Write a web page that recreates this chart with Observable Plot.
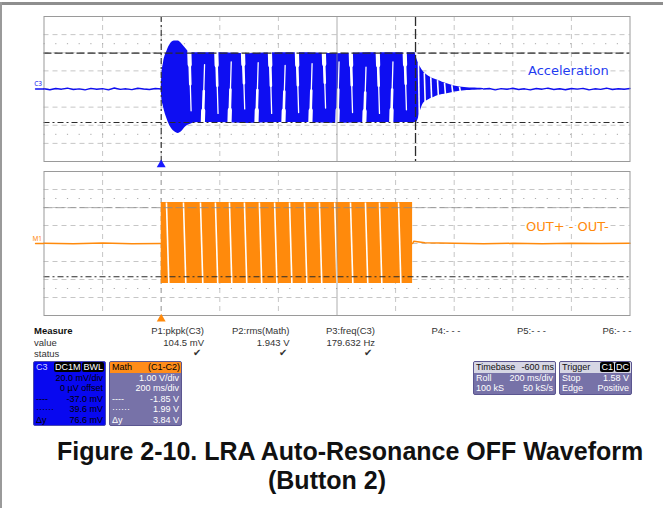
<!DOCTYPE html>
<html><head><meta charset="utf-8">
<script src="https://cdn.jsdelivr.net/npm/d3@7"></script>
<script src="https://cdn.jsdelivr.net/npm/@observablehq/plot@0.6"></script>
<style>
body{margin:0;background:#fff;}
#page{position:relative;width:663px;height:508px;overflow:hidden;background:#fff;font-family:"Liberation Sans",Arial,sans-serif;}
.box{position:absolute;border-radius:2px;overflow:hidden;font-size:9px;line-height:10.6px;}
.row{position:absolute;left:2px;right:2px;height:10.6px;}
.badge{background:#000;color:#fff;border-radius:2px;padding:0 1px;margin-left:1px;}
</style></head><body><div id="page"></div>
<script>
// ---------- DATA ----------
const timeDomain = [-400, 1600];          // ms, 200 ms/div, 10 div
const gridTimes = [-200, 0, 200, 400, 800, 1000, 1200, 1400];
const centerTime = [600];
const triggerTime = [0];
const cursorTime = [868];

// Channel C3 (acceleration), mV, 20 mV/div
const accDomain = [-80, 80];
const accGrid = [-60, -40, -20, 0, 20, 40, 60];
const accDots = [-50, 50];
const accCursorHi = [39.6];
const accCursorLo = [-37.0];

const accPreT  = [-400,-380,-360,-340,-320,-300,-280,-260,-240,-220,-200,-180,-160,-140,-120,-100,-80,-60,-40,-20,0];
const accPreMv = [0.3,-0.8,0.6,-0.2,0.9,-0.5,0.1,-1.0,0.7,-0.3,0.4,-0.9,1.1,-0.4,0.2,-0.7,0.8,0.0,-0.6,0.5,0];

// envelope of the displayed burst + ring-down (max / min per time)
const accEnvT  = [0, 2, 8, 20, 32, 45, 58, 70, 83, 100, 124, 200, 300, 400, 500, 600, 700, 800, 866, 870, 875, 885, 895, 907, 919, 932, 946, 960, 976, 992, 1010, 1027, 1044, 1062, 1080, 1100];
const accEnvHi = [0, 14, 29, 42, 50, 53, 53, 50, 45, 40, 40, 40, 39, 40, 40, 39, 40, 40, 40, 36, 31, 24, 19, 15.5, 13, 11, 9.4, 7.5, 5.8, 4.2, 2.8, 2, 1.3, 1, 0.8, 0.6];
const accEnvLo = [0, -10, -20, -33, -42, -47, -49, -47, -42, -39, -37, -37, -38, -37, -37, -38, -37, -37, -37, -37, -35, -24, -16, -13, -10.8, -9, -7.2, -6.2, -5.3, -4, -3.1, -2.3, -1.7, -1.3, -1, -0.7];

// white gaps seen between the aliased lobes (start / end of each gap)
const accGapT  = [96, 142, 188, 233, 279, 325, 371, 417, 463, 509, 555, 601, 647, 693, 739, 785, 831];
const accGapY1 = [41, -38, 41, -38, 41, -38, 41, -38, 41, -38, 41, -38, 41, -38, 41, -38, 41];
const accGapY2 = [-24, 27, -27, 30, -22, 29, -27, 26, -26, 28, -21, 30, -26, 24, -27, 30, -23];
const accDecayGapT  = [878, 898, 920, 943, 967, 992, 1018];
const accDecayGapHi = [29, 18, 13, 9.8, 6.8, 4.2, 2.4];
const accDecayGapLo = [-31, -15, -10.7, -7.5, -5.7, -4, -2.7];

const accPostT  = [1100,1120,1140,1160,1180,1200,1220,1240,1260,1280,1300,1320,1340,1360,1380,1400,1420,1440,1460,1480,1500,1520,1540,1560,1580,1600];
const accPostMv = [0,0.6,-0.9,0.4,-0.3,0.8,-0.6,0.2,-1.0,0.5,-0.2,0.9,-0.5,0.3,-0.8,0.6,-0.1,0.7,-0.9,0.2,-0.4,1.0,-0.6,0.3,-0.2,0.5];

// Math (OUT+ - OUT-), V, 1 V/div
const outDomain = [-4, 4];
const outGrid = [-3, -2, -1, 0, 1, 2, 3];
const outDots = [-2.5, 2.5];
const outCursorHi = [1.99];
const outCursorLo = [-1.85];
const outPreT = [-400, -300, -200, -100, 0];
const outPreV = [0.02, -0.02, 0.03, -0.01, 0];
const outBandT  = [0, 858];
const outBandHi = [2.28, 2.28];
const outBandLo = [-2.22, -2.22];
const outGapT = [18, 76, 134, 185, 233, 284, 335, 387, 438, 489, 540, 592, 646, 697, 745, 810];
const outGapSlant = 8;
const outPostT = [858, 862, 900, 1000, 1100, 1200, 1300, 1400, 1500, 1600];
const outPostV = [0, 0.12, 0.04, 0.02, -0.02, 0.01, -0.01, 0.02, 0, 0.01];

// texts
const measureHeads = ["P1:pkpk(C3)", "P2:rms(Math)", "P3:freq(C3)", "P4:- - -", "P5:- - -", "P6:- - -"];
const measureValues = ["104.5 mV", "1.943 V", "179.632 Hz", "", "", ""];
const measureStatus = ["✔", "✔", "✔", "", "", ""];
const c3Rows = [["", "20.0 mV/div"], ["", "0 µV offset"], ["----", "-37.0 mV"], ["······", "39.6 mV"], ["Δy", "76.6 mV"]];
const mathRows = [["", "1.00 V/div"], ["", "200 ms/div"], ["----", "-1.85 V"], ["······", "1.99 V"], ["Δy", "3.84 V"]];
const tbRows = [["Roll", "200 ms/div"], ["100 kS", "50 kS/s"]];
const trRows = [["Stop", "1.58 V"], ["Edge", "Positive"]];
const captionLines = ["Figure 2-10. LRA Auto-Resonance OFF Waveform", "(Button 2)"];

// ---------- BUILD ----------
const page = document.getElementById("page");
const zip = (a, b) => a.map((t, i) => ({t, v: b[i]}));
const GRID = "#c6c6c6", DARK = "#2b2b2b", BLUE = "#0e0ef2", ORANGE = "#ff8a0c";
const pxPerMs = (629.5 - 43.5) / (timeDomain[1] - timeDomain[0]);

function gridMarks(yGrid, yDots) {
  return [
    Plot.ruleX(gridTimes, {stroke: GRID, strokeDasharray: "5,4"}),
    Plot.ruleY(yGrid, {stroke: GRID, strokeDasharray: "5,4"}),
    Plot.ruleY(yDots, {stroke: "#aaa", strokeDasharray: "1.2,10.5"})
  ];
}
const accEnv = accEnvT.map((t, i) => ({t, hi: accEnvHi[i], lo: accEnvLo[i]}));
const SLANT = 6;
const accGaps = accGapT.map((t, i) => ({t, y1: accGapY1[i], y2: accGapY2[i]}));
const accDecayGaps = accDecayGapT.map((t, i) => ({t, y1: accDecayGapHi[i], y2: accDecayGapLo[i]}));
// tapered gap: wide near where it opens, thin further in
const wedge = (f) => ({x1: "t", y1: "y1", x2: d => d.t + SLANT * f, y2: d => d.y1 + (d.y2 - d.y1) * f});

// top panel
const topPlot = Plot.plot({
  width: 663, height: 170, marginLeft: 43.5, marginRight: 33.5, marginTop: 16, marginBottom: 9,
  x: {domain: timeDomain, axis: null},
  y: {domain: accDomain, axis: null},
  style: {background: "transparent", overflow: "visible"},
  marks: [
    ...gridMarks(accGrid, accDots),
    Plot.text(["Acceleration"], {x: 1252, y: 20, text: d => d, textAnchor: "start", fill: "#1f3cf0",
      fontSize: 13, fontFamily: "DejaVu Sans", stroke: "white", strokeWidth: 4}),
    Plot.line(zip(accPreT, accPreMv), {x: "t", y: "v", stroke: BLUE, strokeWidth: 1.4}),
    Plot.areaY(accEnv, {x: "t", y1: "lo", y2: "hi", fill: BLUE, curve: "monotone-x"}),
    Plot.link(accGaps, {...wedge(1), stroke: "white", strokeWidth: 1.3, strokeLinecap: "round"}),
    Plot.link(accGaps, {...wedge(0.55), stroke: "white", strokeWidth: 2.6, strokeLinecap: "round"}),
    Plot.link(accGaps, {...wedge(0.22), stroke: "white", strokeWidth: 4.2, strokeLinecap: "round"}),
    Plot.link(accDecayGaps, {x1: "t", y1: "y1", x2: d => d.t + 3, y2: "y2", stroke: "white", strokeWidth: 1.6}),
    Plot.line(zip(accPostT, accPostMv), {x: "t", y: "v", stroke: BLUE, strokeWidth: 1.4}),
    Plot.ruleX(centerTime, {stroke: "#8c8c8c", strokeOpacity: 0.7}),
    Plot.ruleY(accCursorHi, {stroke: DARK, strokeDasharray: "8,3", strokeWidth: 1.2}),
    Plot.ruleY(accCursorLo, {stroke: DARK, strokeDasharray: "6,3,2,3", strokeWidth: 1.1}),
    Plot.ruleX(triggerTime, {stroke: DARK, strokeDasharray: "6,3,2,3", strokeWidth: 1.1}),
    Plot.ruleX(cursorTime, {stroke: DARK, strokeDasharray: "10,3", strokeWidth: 1.3}),
    Plot.frame({stroke: "#9a9a9a"}),
    Plot.line([{t: timeDomain[0] - 8.5 / pxPerMs, v: 0}, {t: timeDomain[0], v: 0}], {x: "t", y: "v", stroke: BLUE, strokeWidth: 1.3, clip: false}),
    Plot.text(["C3"], {x: timeDomain[0], y: 0, dx: -2, dy: -5, text: d => d, textAnchor: "end", fill: BLUE, fontSize: 6.5, clip: false}),
    Plot.dot(triggerTime, {x: d => d, y: accDomain[0] - 3.2 * (accDomain[1] - accDomain[0]) / 145, symbol: "triangle", r: 3.3, fill: "#1a1aff", stroke: null, clip: false})
  ]
});
topPlot.style.position = "absolute"; topPlot.style.left = "0px"; topPlot.style.top = "0px";
page.appendChild(topPlot);

// bottom panel
const botPlot = Plot.plot({
  width: 663, height: 155, marginLeft: 43.5, marginRight: 33.5, marginTop: 5, marginBottom: 6,
  x: {domain: timeDomain, axis: null},
  y: {domain: outDomain, axis: null},
  style: {background: "transparent", overflow: "visible"},
  marks: [
    ...gridMarks(outGrid, outDots),
    Plot.ruleX(triggerTime, {stroke: "#a8a8a8", strokeDasharray: "5,4"}),
    Plot.text(["OUT+ - OUT-"], {x: 1245, y: 0.95, text: d => d, textAnchor: "start", fill: ORANGE,
      fontSize: 13, fontFamily: "DejaVu Sans", stroke: "white", strokeWidth: 4}),
    Plot.line(zip(outPreT, outPreV), {x: "t", y: "v", stroke: ORANGE, strokeWidth: 1.5}),
    Plot.areaY(outBandT.map((t, i) => ({t, hi: outBandHi[i], lo: outBandLo[i]})), {x: "t", y1: "lo", y2: "hi", fill: ORANGE}),
    Plot.link(outGapT, {x1: d => d, y1: outBandHi[0], x2: d => d + outGapSlant, y2: outBandLo[0], stroke: "white", strokeWidth: 1.6}),
    Plot.line(zip(outPostT, outPostV), {x: "t", y: "v", stroke: ORANGE, strokeWidth: 1.5}),
    Plot.ruleX(centerTime, {stroke: "#8c8c8c", strokeOpacity: 0.7}),
    Plot.ruleY(outCursorHi, {stroke: "#8a8a8a", strokeOpacity: 0.8, strokeDasharray: "9,3"}),
    Plot.ruleY(outCursorLo, {stroke: DARK, strokeDasharray: "6,3,2,3", strokeWidth: 1.1}),
    Plot.frame({stroke: "#9a9a9a"}),
    Plot.line([{t: timeDomain[0] - 8.5 / pxPerMs, v: 0}, {t: timeDomain[0], v: 0}], {x: "t", y: "v", stroke: ORANGE, strokeWidth: 1.3, clip: false}),
    Plot.text(["M1"], {x: timeDomain[0], y: 0, dx: -2, dy: -5, text: d => d, textAnchor: "end", fill: ORANGE, fontSize: 6.5, clip: false}),
    Plot.dot(triggerTime, {x: d => d, y: outDomain[0] - 3.5 * (outDomain[1] - outDomain[0]) / 144, symbol: "triangle", r: 3.3, fill: ORANGE, stroke: null, clip: false})
  ]
});
botPlot.style.position = "absolute"; botPlot.style.left = "0px"; botPlot.style.top = "166px";
page.appendChild(botPlot);

function el(tag, css, html) {
  const e = document.createElement(tag);
  e.style.cssText = css;
  if (html != null) e.innerHTML = html;
  return e;
}
// page border
page.appendChild(el("div", "position:absolute;left:0;top:2px;width:663px;height:3px;background:#8e8e8e;"));
page.appendChild(el("div", "position:absolute;left:0;top:2px;width:2px;height:506px;background:#9a9a9a;"));

// measure table
const mRight = [204, 289.5, 375, 460.5, 546, 631.5];
page.appendChild(el("div", "position:absolute;left:34px;top:325px;font:bold 9.5px 'Liberation Sans',Arial;color:#111;", "Measure"));
page.appendChild(el("div", "position:absolute;left:34px;top:336.5px;font:9.5px 'Liberation Sans',Arial;color:#333;", "value"));
page.appendChild(el("div", "position:absolute;left:34px;top:348px;font:9.5px 'Liberation Sans',Arial;color:#333;", "status"));
measureHeads.forEach((h, i) => {
  const css = `position:absolute;right:${663 - mRight[i]}px;font:9.5px 'Liberation Sans',Arial;color:#333;white-space:nowrap;`;
  page.appendChild(el("div", css + "top:325px;", h));
  if (measureValues[i]) page.appendChild(el("div", css + "top:336.5px;", measureValues[i]));
  if (measureStatus[i]) page.appendChild(el("div", css + "top:347px;padding-right:3px;font-size:10px;", measureStatus[i]));
});

// info boxes
function box(left, topY, w, h, bg, border, headBg, headColor, headL, headR, rows, rowColor) {
  const b = el("div", `left:${left}px;top:${topY}px;width:${w}px;height:${h}px;background:${bg};border:1px solid ${border};box-sizing:border-box;`);
  b.className = "box";
  const hd = el("div", `position:absolute;left:0;right:0;top:0;height:10.6px;background:${headBg};color:${headColor};`);
  hd.appendChild(el("span", "position:absolute;left:2px;", headL));
  hd.appendChild(el("span", "position:absolute;right:1px;", headR));
  b.appendChild(hd);
  rows.forEach((r, i) => {
    const rw = el("div", `top:${10.6 * (i + 1)}px;color:${rowColor};`);
    rw.className = "row";
    rw.appendChild(el("span", "position:absolute;left:0;", r[0]));
    rw.appendChild(el("span", "position:absolute;right:0;", r[1]));
    b.appendChild(rw);
  });
  page.appendChild(b);
}
box(33, 361, 73, 65, "#0808f0", "#4a4ab0", "transparent", "#d8d8ff", "C3", '<span class="badge">DC1M</span><span class="badge">BWL</span>', c3Rows, "#000");
box(109, 361, 73, 65, "#7772a8", "#5b5690", "#ff8c1a", "#000", "Math", "(C1-C2)", mathRows, "#fff");
box(473, 361, 83, 34, "#7772a8", "#5b5690", "#d6d6e4", "#111", "Timebase", "-600 ms", tbRows, "#fff");
box(559, 361, 73, 34, "#7772a8", "#5b5690", "#d6d6e4", "#111", "Trigger", '<span class="badge">C1</span><span class="badge">DC</span>', trRows, "#fff");

// caption
page.appendChild(el("div", "position:absolute;left:57px;top:439px;font:bold 25px/25px 'Liberation Sans',Arial;color:#111;white-space:nowrap;", captionLines[0]));
page.appendChild(el("div", "position:absolute;left:177px;width:300px;text-align:center;top:468px;font:bold 25px/25px 'Liberation Sans',Arial;color:#111;white-space:nowrap;", captionLines[1]));
</script></body></html>
